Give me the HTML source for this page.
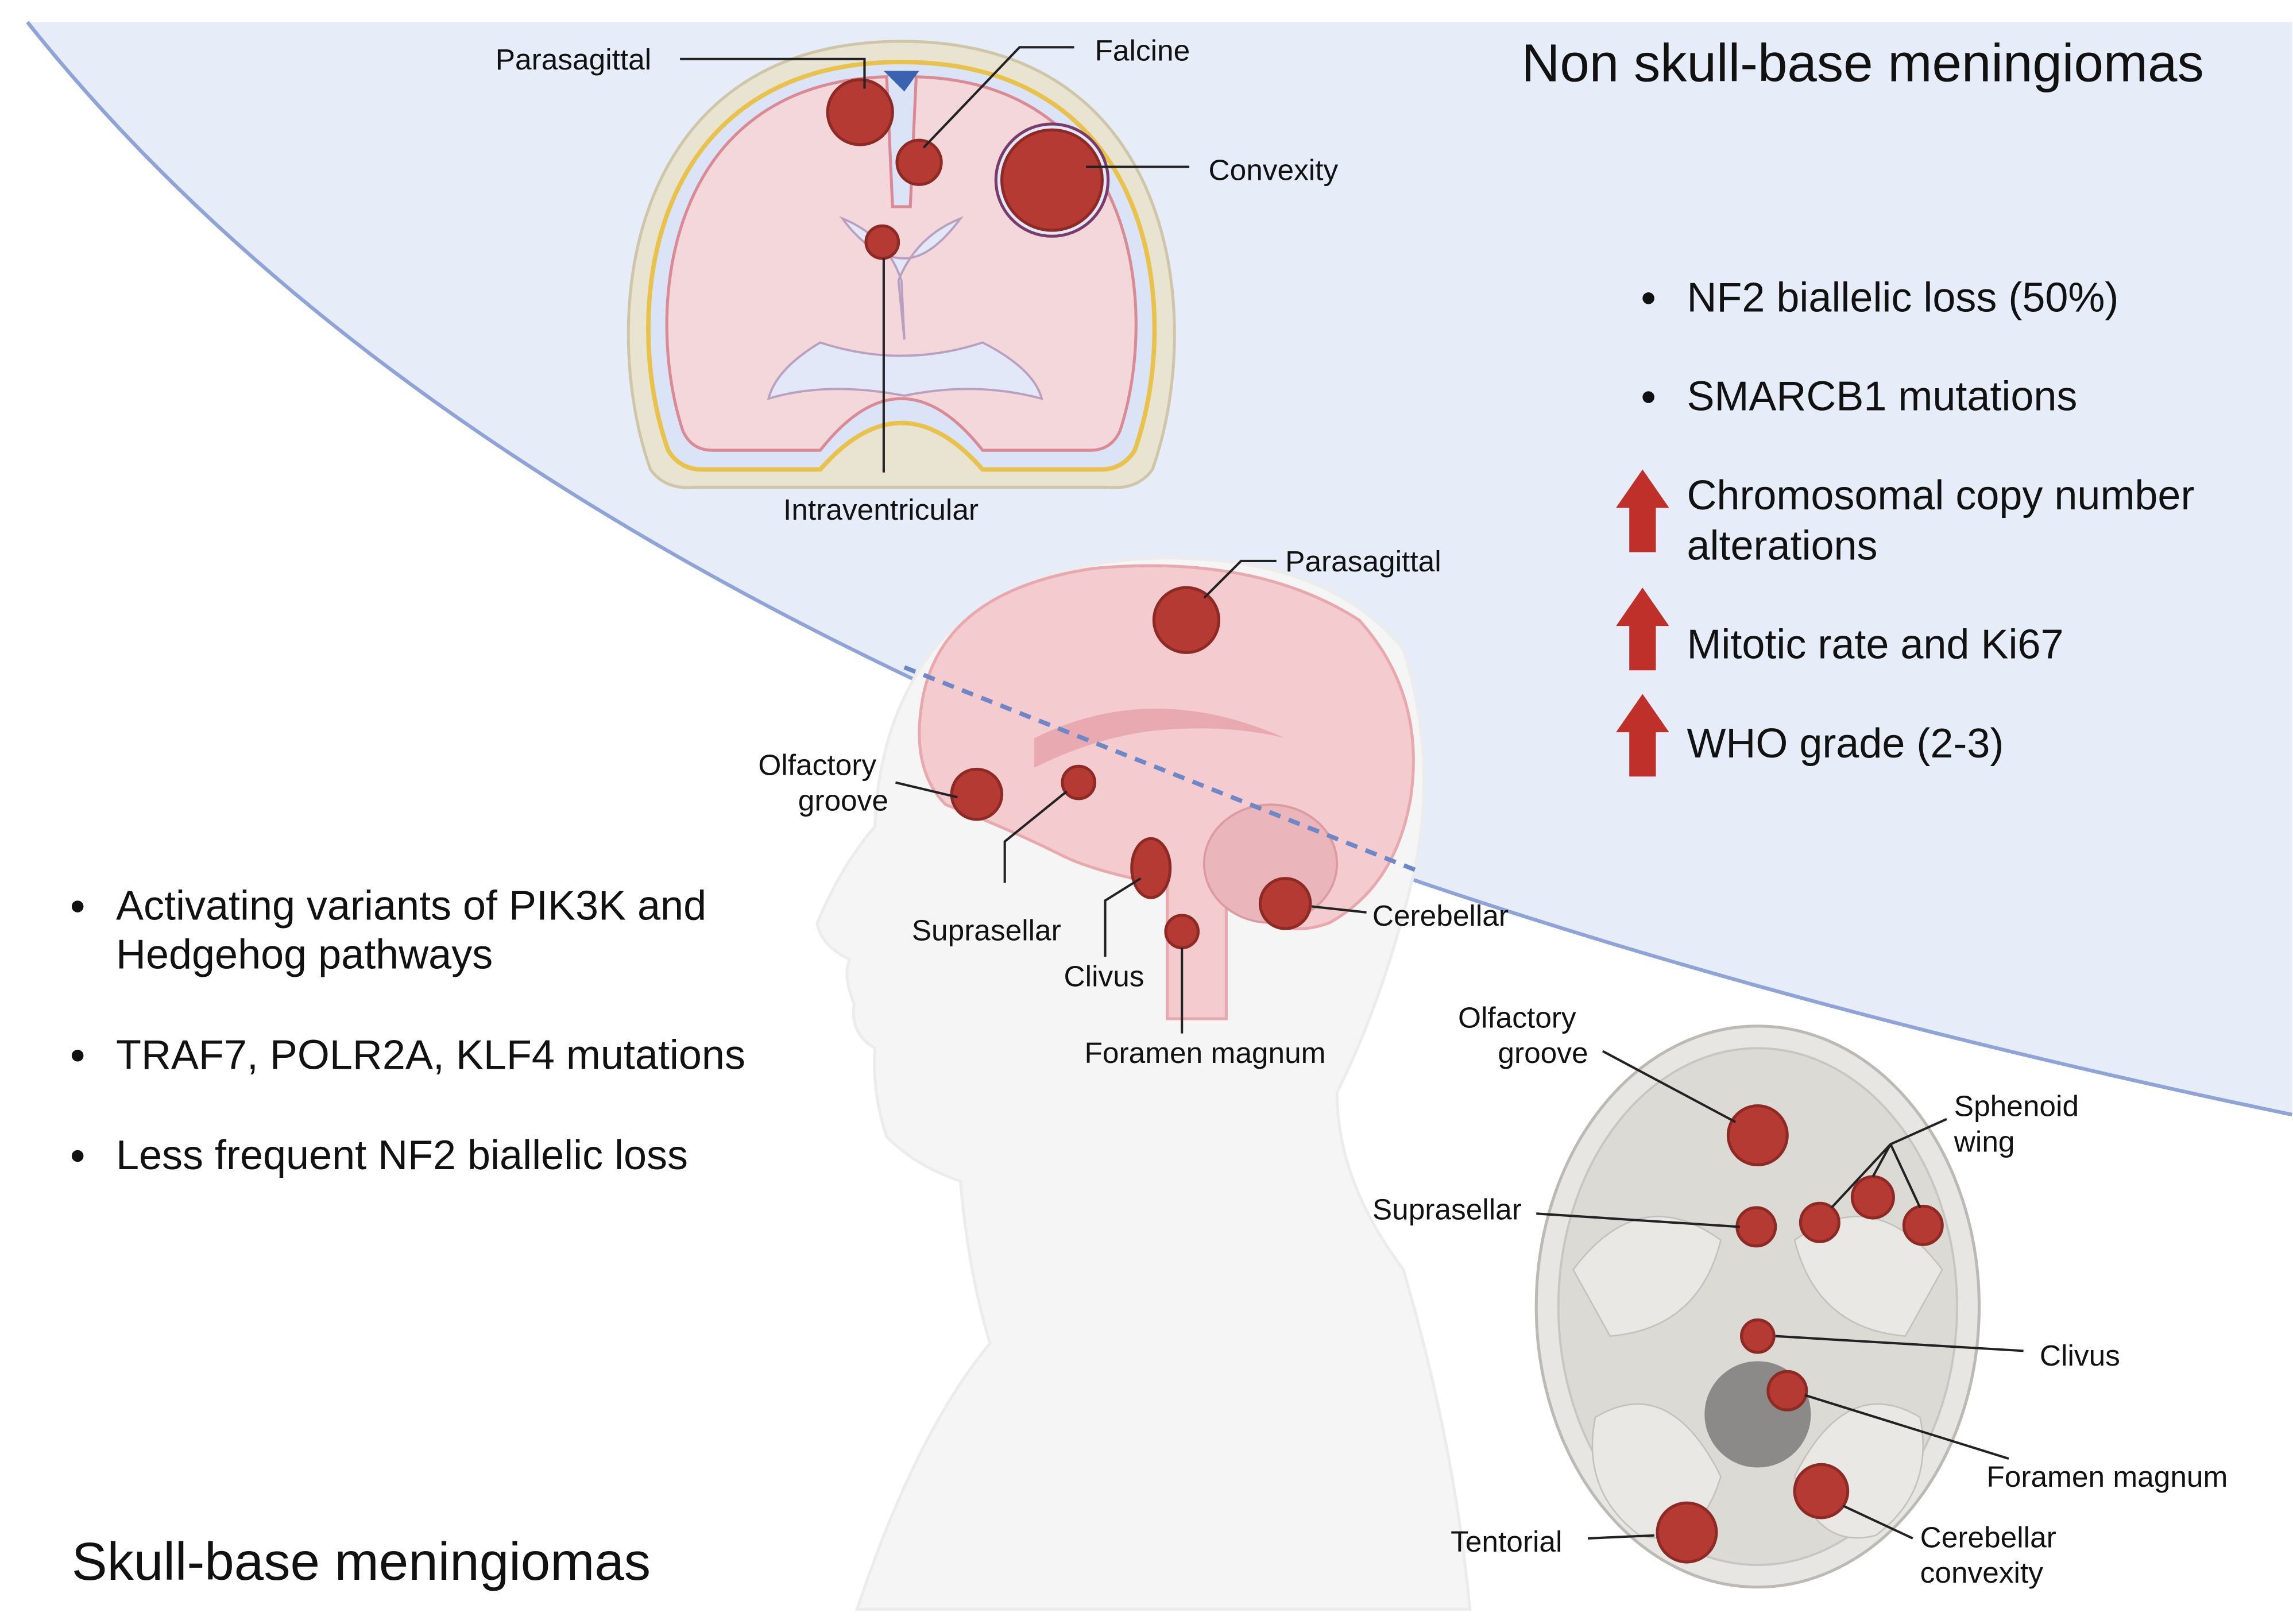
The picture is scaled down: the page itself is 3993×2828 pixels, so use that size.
<!DOCTYPE html>
<html><head><meta charset="utf-8"><style>
html,body{margin:0;padding:0;background:#fff;}
svg{display:block;}
text{font-family:"Liberation Sans",sans-serif;fill:#111;}
</style></head><body>
<svg width="3993" height="2828" viewBox="0 0 1552 1100" xmlns="http://www.w3.org/2000/svg">
<rect width="1552" height="1100" fill="#fff"/>
<path d="M18,15 Q420,520 1552,755 L1552,15 Z" fill="#e6edf8"/>
<path d="M18,15 Q420,520 1552,755" fill="none" stroke="#8fa3d8" stroke-width="2.5"/>

<!-- head silhouette -->
<path d="M640,430 Q700,378 790,378 Q900,378 950,440 Q975,520 955,600 Q935,680 905,740 Q905,800 950,860 Q985,980 995,1090 L580,1090 Q620,970 670,910 Q655,860 650,800 Q620,790 600,770 Q590,740 592,710 Q575,700 578,680 Q570,660 575,650 Q555,640 553,625 Q570,585 592,560 Q595,480 640,430 Z" fill="#f5f5f5" stroke="#ececec" stroke-width="2"/>

<!-- sagittal brain -->
<path d="M625,470 Q640,400 740,385 Q850,375 920,420 Q965,470 955,540 Q945,600 900,625 Q860,640 830,600 L830,690 L790,690 L790,600 Q740,590 720,580 Q680,560 640,545 Q615,520 625,470 Z" fill="#f4ccd0" stroke="#e7a8ae" stroke-width="2"/>
<path d="M700,500 Q780,460 870,500 Q830,490 780,495 Q740,500 700,520 Z" fill="#e8a9b0"/>
<ellipse cx="860" cy="585" rx="45" ry="40" fill="#eab6bb" stroke="#dc9aa1" stroke-width="1.5"/>
<line x1="612" y1="452" x2="960" y2="590" stroke="#6e87c6" stroke-width="3" stroke-dasharray="8,6"/>

<!-- coronal brain -->
<path d="M440,318 C405,220 420,28 610,28 C800,28 815,220 780,318 Q770,332 750,330 L470,330 Q450,332 440,318 Z" fill="#e9e3d2" stroke="#cfc6aa" stroke-width="2"/>
<path d="M452,305 C420,215 435,42 610,42 C785,42 800,215 768,305 Q760,318 745,318 L665,318 Q610,255 555,318 L475,318 Q460,318 452,305 Z" fill="#dbe3f6" stroke="#e8c24a" stroke-width="3"/>
<path d="M462,292 C435,210 450,56 600,52 L604,140 L616,140 L620,52 C770,56 785,210 758,292 Q752,305 738,305 L665,305 Q610,235 555,305 L482,305 Q468,305 462,292 Z" fill="#f3d7da" stroke="#d98a95" stroke-width="2"/>
<path d="M598,48 L622,48 L612,62 Z" fill="#3b62b0"/>
<path d="M570,148 Q600,160 610,190 L612,230 L608,190 Q620,160 650,148 Q630,175 612,175 Q590,175 570,148 Z" fill="#e2e8f8" stroke="#b9a0c0" stroke-width="1.5"/>
<path d="M555,232 Q610,250 665,232 Q700,250 705,270 Q660,258 612,268 Q560,258 520,270 Q525,250 555,232 Z" fill="#e2e8f8" stroke="#b9a0c0" stroke-width="1.5"/>
<ellipse cx="712" cy="122" rx="38" ry="38" fill="#e2e8f8" stroke="#7a3a6a" stroke-width="2"/>

<!-- skull base axial -->
<ellipse cx="1190" cy="885" rx="150" ry="190" fill="#e7e6e2" stroke="#bcbab4" stroke-width="2"/>
<ellipse cx="1190" cy="885" rx="135" ry="175" fill="#dcdad5" stroke="#c8c6c0" stroke-width="1.5"/>
<path d="M1065,860 Q1110,800 1165,840 Q1150,900 1090,905 Z" fill="#e9e8e4" stroke="#c3c1bb"/>
<path d="M1315,860 Q1270,800 1215,840 Q1230,900 1290,905 Z" fill="#e9e8e4" stroke="#c3c1bb"/>
<path d="M1080,960 Q1130,930 1165,1000 Q1150,1050 1110,1040 Q1070,1010 1080,960 Z" fill="#e9e8e4" stroke="#c3c1bb"/>
<path d="M1300,960 Q1250,930 1215,1000 Q1230,1050 1270,1040 Q1310,1010 1300,960 Z" fill="#e9e8e4" stroke="#c3c1bb"/>
<ellipse cx="1190" cy="958" rx="36" ry="36" fill="#8b8a88"/>

<g fill="#b53a33" stroke="#8e2a26" stroke-width="2">
<circle cx="582" cy="76" r="22"/>
<circle cx="622" cy="110" r="15"/>
<circle cx="712" cy="122" r="34"/>
<circle cx="597" cy="164" r="11"/>
<circle cx="803" cy="420" r="22"/>
<circle cx="661" cy="538" r="17"/>
<circle cx="730" cy="530" r="11"/>
<ellipse cx="779" cy="588" rx="13" ry="20"/>
<circle cx="800" cy="631" r="11"/>
<circle cx="870" cy="612" r="17"/>
<circle cx="1190" cy="769" r="20"/>
<circle cx="1189" cy="831" r="13"/>
<circle cx="1232" cy="828" r="13"/>
<circle cx="1268" cy="811" r="14"/>
<circle cx="1302" cy="830" r="13"/>
<circle cx="1190" cy="905" r="11"/>
<circle cx="1210" cy="942" r="13"/>
<circle cx="1233" cy="1010" r="18"/>
<circle cx="1142" cy="1038" r="20"/>
</g>

<g stroke="#222" stroke-width="1.6" fill="none">
<path d="M460,40 L585,40 L585,60"/>
<path d="M727,32 L690,32 L625,100"/>
<path d="M805,113 L735,113"/>
<path d="M598,175 L598,320"/>
<path d="M864,380 L840,380 L815,405"/>
<path d="M606,530 L648,540"/>
<path d="M680,598 L680,570 L722,536"/>
<path d="M748,648 L748,610 L772,595"/>
<path d="M800,700 L800,642"/>
<path d="M925,618 L888,614"/>
<path d="M1085,712 L1175,760"/>
<path d="M1318,758 L1280,775 L1240,818 M1280,775 L1268,797 M1280,775 L1300,818"/>
<path d="M1040,822 L1178,831"/>
<path d="M1370,915 L1202,905"/>
<path d="M1360,988 L1222,945"/>
<path d="M1295,1042 L1248,1020"/>
<path d="M1075,1042 L1120,1040"/>
</g>

<g font-size="20">
<text x="335" y="47">Parasagittal</text>
<text x="741" y="41">Falcine</text>
<text x="818" y="122">Convexity</text>
<text x="530" y="352">Intraventricular</text>
<text x="870" y="387">Parasagittal</text>
<text x="513" y="525">Olfactory</text>
<text x="540" y="549">groove</text>
<text x="617" y="637">Suprasellar</text>
<text x="720" y="668">Clivus</text>
<text x="929" y="627">Cerebellar</text>
<text x="734" y="720">Foramen magnum</text>
<text x="987" y="696">Olfactory</text>
<text x="1014" y="720">groove</text>
<text x="1323" y="756">Sphenoid</text>
<text x="1323" y="780">wing</text>
<text x="929" y="826">Suprasellar</text>
<text x="1381" y="925">Clivus</text>
<text x="1345" y="1007">Foramen magnum</text>
<text x="1300" y="1048">Cerebellar</text>
<text x="1300" y="1072">convexity</text>
<text x="982" y="1051">Tentorial</text>
</g>

<text x="1030" y="55" font-size="36">Non skull-base meningiomas</text>
<text x="48" y="1070" font-size="36">Skull-base meningiomas</text>

<g font-size="28">
<circle cx="1116" cy="202" r="4" fill="#111"/>
<text x="1142" y="211">NF2 biallelic loss (50%)</text>
<circle cx="1116" cy="269" r="4" fill="#111"/>
<text x="1142" y="278">SMARCB1 mutations</text>
<text x="1142" y="345">Chromosomal copy number</text>
<text x="1142" y="379">alterations</text>
<text x="1142" y="446">Mitotic rate and Ki67</text>
<text x="1142" y="513">WHO grade (2-3)</text>
<circle cx="52" cy="614" r="4" fill="#111"/>
<text x="78" y="623">Activating variants of PIK3K and</text>
<text x="78" y="656">Hedgehog pathways</text>
<circle cx="52" cy="715" r="4" fill="#111"/>
<text x="78" y="724">TRAF7, POLR2A, KLF4 mutations</text>
<circle cx="52" cy="783" r="4" fill="#111"/>
<text x="78" y="792">Less frequent NF2 biallelic loss</text>
</g>
<g fill="#c0302a">
<path d="M1112,318 L1130,344 L1121,344 L1121,374 L1103,374 L1103,344 L1094,344 Z"/>
<path d="M1112,398 L1130,424 L1121,424 L1121,454 L1103,454 L1103,424 L1094,424 Z"/>
<path d="M1112,470 L1130,496 L1121,496 L1121,526 L1103,526 L1103,496 L1094,496 Z"/>
</g>
</svg>
</body></html>
